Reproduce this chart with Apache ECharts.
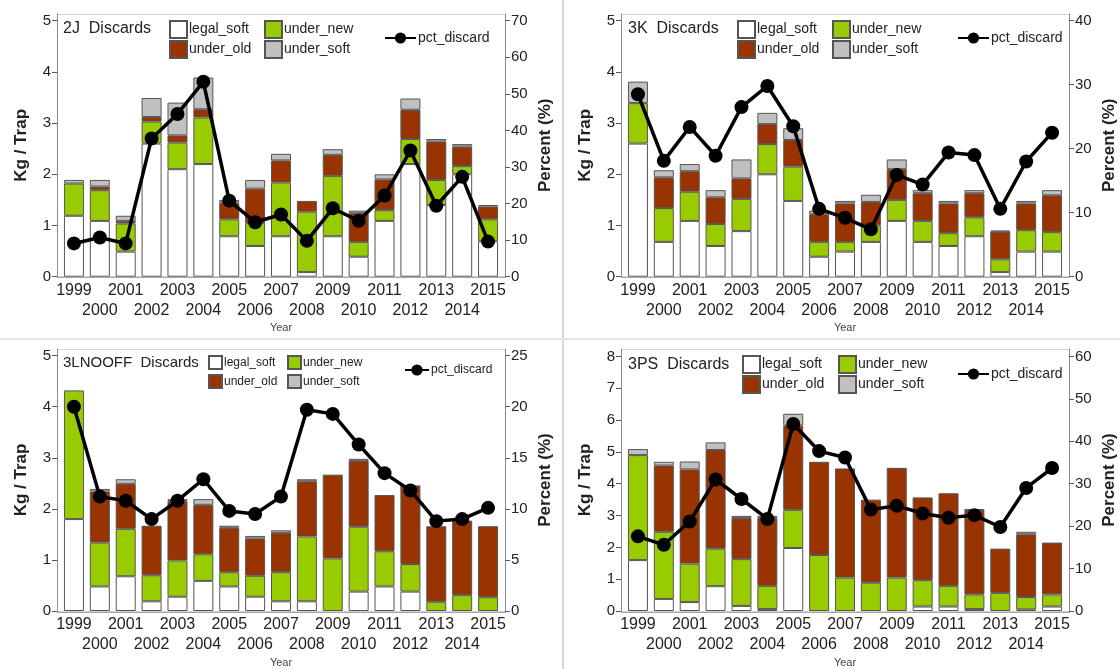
<!DOCTYPE html>
<html>
<head>
<meta charset="utf-8">
<script src="https://cdn.jsdelivr.net/npm/echarts@6/dist/echarts.min.js"></script>
<style>html,body{margin:0;padding:0;background:#fff}#c{width:1120px;height:669px}</style>
</head>
<body>
<div id="c"></div>
<script>
const years = ['1999','2000','2001','2002','2003','2004','2005','2006','2007','2008','2009','2010','2011','2012','2013','2014','2015'];

// 2J
const j2_legal = [1.19,1.09,0.49,2.6,2.1,2.2,0.79,0.6,0.79,0.09,0.79,0.39,1.09,2.2,1.4,2.0,0.69];
const j2_new   = [0.63,0.6,0.55,0.43,0.52,0.91,0.33,0.45,1.05,1.18,1.18,0.29,0.21,0.49,0.49,0.16,0.43];
const j2_old   = [0,0.07,0.05,0.09,0.14,0.16,0.33,0.67,0.43,0.21,0.41,0.56,0.6,0.57,0.75,0.38,0.25];
const j2_soft  = [0.07,0.13,0.1,0.37,0.64,0.62,0.05,0.17,0.13,0,0.11,0.05,0.1,0.22,0.05,0.05,0.03];
const j2_pct   = [9.1,10.7,9.1,37.8,44.5,53.3,20.8,14.9,17.0,9.8,18.7,15.3,22.2,34.5,19.4,27.3,9.6];

// 3K
const k3_legal = [2.6,0.68,1.09,0.6,0.89,2.0,1.48,0.39,0.49,0.68,1.09,0.68,0.6,0.79,0.09,0.49,0.49];
const k3_new   = [0.79,0.66,0.57,0.43,0.63,0.59,0.67,0.29,0.19,0.32,0.41,0.41,0.25,0.37,0.25,0.42,0.38];
const k3_old   = [0,0.6,0.4,0.52,0.4,0.39,0.52,0.54,0.75,0.46,0.6,0.54,0.58,0.47,0.54,0.52,0.72];
const k3_soft  = [0.42,0.14,0.14,0.14,0.37,0.22,0.23,0.07,0.05,0.14,0.19,0.06,0.05,0.06,0.02,0.05,0.1];
const k3_pct   = [28.5,18.1,23.4,18.9,26.5,29.8,23.5,10.6,9.2,7.4,15.9,14.4,19.4,19.0,10.6,18.0,22.5];

// 3LNOOFF
const l3_legal = [1.8,0.48,0.68,0.19,0.28,0.59,0.48,0.28,0.19,0.19,0,0.38,0.48,0.38,0,0,0];
const l3_new   = [2.52,0.86,0.93,0.51,0.71,0.52,0.28,0.41,0.57,1.27,1.03,1.27,0.69,0.54,0.18,0.31,0.27];
const l3_old   = [0,1.0,0.88,0.97,1.16,0.97,0.87,0.73,0.77,1.08,1.64,1.29,1.1,1.54,1.48,1.46,1.39];
const l3_soft  = [0,0.05,0.09,0,0.04,0.11,0.04,0.05,0.05,0.04,0,0.04,0,0,0,0,0];
const l3_pct   = [20.0,11.2,10.8,9.0,10.8,12.9,9.8,9.5,11.2,19.7,19.3,16.3,13.5,11.8,8.8,9.0,10.1];

// 3PS
const p3_legal = [1.6,0.38,0.28,0.78,0.16,0.06,1.98,0,0,0,0,0.14,0.14,0.06,0,0.05,0.14];
const p3_new   = [3.3,2.11,1.21,1.18,1.47,0.73,1.2,1.76,1.05,0.89,1.05,0.83,0.65,0.46,0.57,0.39,0.38];
const p3_old   = [0,2.08,2.96,3.1,1.29,2.13,2.65,2.93,3.43,2.61,3.45,2.6,2.91,2.66,1.39,1.97,1.63];
const p3_soft  = [0.19,0.12,0.25,0.24,0.07,0.07,0.37,0,0,0,0,0,0,0.02,0,0.08,0];
const p3_pct   = [17.6,15.6,21.1,31.0,26.4,21.7,44.1,37.7,36.2,23.9,24.8,23.0,22.0,22.6,19.8,29.0,33.7];

const kgTicks5 = [0,1,2,3,4,5];
const kgTicks8 = [0,1,2,3,4,5,6,7,8];
const pctTicks70 = [0,10,20,30,40,50,60,70];
const pctTicks40 = [0,10,20,30,40];
const pctTicks25 = [0,5,10,15,20,25];
const pctTicks60 = [0,10,20,30,40,50,60];

const seriesNames = ['legal_soft','under_new','under_old','under_soft'];
const seriesColors = ['#ffffff','#99cc00','#993300','#c0c0c0'];

const panels = [
  {title:'2J  Discards', bars:[j2_legal,j2_new,j2_old,j2_soft], pct:j2_pct, kgTicks:kgTicks5, pctTicks:pctTicks70,
   L:{left:57, frameTop:14, tickTop:20.7, zeroY:276.7, titleLeft:63, titleTop:21, legA:169, legB:264, legC:384, legTop:20, legCTop:31, item:17, gap:1, legFont:14, cW:31, titleFont:16}},
  {title:'3K  Discards', bars:[k3_legal,k3_new,k3_old,k3_soft], pct:k3_pct, kgTicks:kgTicks5, pctTicks:pctTicks40,
   L:{left:621, frameTop:14, tickTop:20.7, zeroY:276.7, titleLeft:628, titleTop:21, legA:737, legB:832, legC:957, legTop:20, legCTop:31, item:17, gap:1, legFont:14, cW:31, titleFont:16}},
  {title:'3LNOOFF  Discards', bars:[l3_legal,l3_new,l3_old,l3_soft], pct:l3_pct, kgTicks:kgTicks5, pctTicks:pctTicks25,
   L:{left:57, frameTop:349, tickTop:355.7, zeroY:611.7, titleLeft:63, titleTop:355, legA:208, legB:287, legC:404, legTop:355, legCTop:364, item:13, gap:4, legFont:12, cW:24, titleFont:15}},
  {title:'3PS  Discards', bars:[p3_legal,p3_new,p3_old,p3_soft], pct:p3_pct, kgTicks:kgTicks8, pctTicks:pctTicks60,
   L:{left:621, frameTop:349, tickTop:356.5, zeroY:611.7, titleLeft:628, titleTop:357, legA:742, legB:838, legC:957, legTop:355, legCTop:367, item:17, gap:1, legFont:14, cW:31, titleFont:16}}
];

const FONT = "'Liberation Sans', Arial, sans-serif";
const TXT = '#222';
const AXC = '#8a8a8a';
const FRAME_W = 448;   // outer frame width (axis line to axis line)
const INSET = 4;       // gap between axis lines and the category band

const option = {
  animation:false,
  backgroundColor:'#fff',
  textStyle:{fontFamily:FONT},
  title:[], legend:[], grid:[], xAxis:[], yAxis:[], series:[],
  graphic:[
    {type:'line', shape:{x1:563,y1:0,x2:563,y2:669}, style:{stroke:'#d8d8d8', lineWidth:2}, silent:true},
    {type:'line', shape:{x1:0,y1:339,x2:1120,y2:339}, style:{stroke:'#e4e4e4', lineWidth:2}, silent:true}
  ]
};

panels.forEach((p, i) => {
  const L = p.L;
  const h = L.zeroY - L.frameTop;
  const ratio = h / (L.zeroY - L.tickTop);
  const kgTop = p.kgTicks[p.kgTicks.length-1];
  const pctTop = p.pctTicks[p.pctTicks.length-1];
  // frame
  option.graphic.push({type:'rect', shape:{x:L.left+0.5, y:L.frameTop+0.5, width:FRAME_W, height:h},
    style:{fill:null, stroke:'#d4d4d4', lineWidth:1}, silent:true, z:-1});
  option.graphic.push({type:'line', shape:{x1:L.left, y1:L.zeroY+0.5, x2:L.left+FRAME_W+1, y2:L.zeroY+0.5},
    style:{stroke:AXC, lineWidth:1}, silent:true, z:50});
  option.grid.push({left:L.left+INSET, top:L.frameTop, width:FRAME_W-2*INSET, height:h, show:false, containLabel:false});
  option.xAxis.push({
    type:'category', gridIndex:i, data:years, boundaryGap:true,
    name:'Year', nameLocation:'middle', nameGap:46,
    nameTextStyle:{fontSize:11, color:'#444', fontFamily:FONT},
    axisLine:{show:false},
    axisTick:{show:false},
    splitLine:{show:false},
    axisLabel:{interval:0, fontSize:16, color:TXT, fontFamily:FONT, margin:4, lineHeight:20,
      formatter:(v, idx)=> (idx % 2 === 0 ? v : '\n' + v)}
  });
  option.yAxis.push({
    type:'value', gridIndex:i, min:0, max:kgTop*ratio, position:'left', offset:INSET,
    name:'Kg / Trap', nameLocation:'middle', nameGap:27,
    nameTextStyle:{fontSize:17, fontWeight:'bold', color:TXT, fontFamily:FONT},
    axisLine:{show:true, lineStyle:{color:AXC}},
    axisTick:{show:true, customValues:p.kgTicks, length:5, lineStyle:{color:'#555'}},
    axisLabel:{customValues:p.kgTicks, fontSize:15, color:TXT, fontFamily:FONT, margin:6},
    splitLine:{show:false}
  });
  option.yAxis.push({
    type:'value', gridIndex:i, min:0, max:pctTop*ratio, position:'right', offset:INSET,
    name:'Percent (%)', nameLocation:'middle', nameGap:32,
    nameTextStyle:{fontSize:17, fontWeight:'bold', color:TXT, fontFamily:FONT},
    axisLine:{show:true, lineStyle:{color:AXC}},
    axisTick:{show:true, customValues:p.pctTicks, length:5, lineStyle:{color:'#555'}},
    axisLabel:{customValues:p.pctTicks, fontSize:15, color:TXT, fontFamily:FONT, margin:6},
    splitLine:{show:false}
  });
  p.bars.forEach((arr, k) => {
    option.series.push({
      name:seriesNames[k], type:'bar', xAxisIndex:i, yAxisIndex:2*i, stack:'s'+i,
      barWidth:20,
      itemStyle:{color:seriesColors[k], borderColor:'#555', borderWidth:1},
      data: arr.map(v => v > 0 ? v : null),
      z:2
    });
  });
  option.series.push({
    name:'pct_discard', type:'line', xAxisIndex:i, yAxisIndex:2*i+1,
    symbol:'circle', symbolSize:14, showSymbol:true,
    lineStyle:{color:'#000', width:3.5}, itemStyle:{color:'#000'},
    data: p.pct, z:5
  });
  option.title.push({text:p.title, left:L.titleLeft, top:L.titleTop, padding:0,
    textStyle:{fontSize:L.titleFont, fontWeight:'normal', color:TXT, fontFamily:FONT}});
  const legBase = {orient:'vertical', padding:0, itemGap:L.gap, itemWidth:L.item, itemHeight:L.item, icon:'rect',
    selectedMode:false, textStyle:{fontSize:L.legFont, color:TXT, fontFamily:FONT, padding:[0,0,0,-3]}};
  option.legend.push(Object.assign({}, legBase, {left:L.legA, top:L.legTop, data:['legal_soft','under_old']}));
  option.legend.push(Object.assign({}, legBase, {left:L.legB, top:L.legTop, data:['under_new','under_soft']}));
  option.legend.push({padding:0, left:L.legC, top:L.legCTop, itemWidth:L.cW, itemHeight:14, selectedMode:false,
    data:['pct_discard'], textStyle:{fontSize:L.legFont, color:TXT, fontFamily:FONT, padding:[0,0,0,-3]}});
});

const chart = echarts.init(document.getElementById('c'), null, {renderer:'canvas'});
chart.setOption(option);
</script>
</body>
</html>
